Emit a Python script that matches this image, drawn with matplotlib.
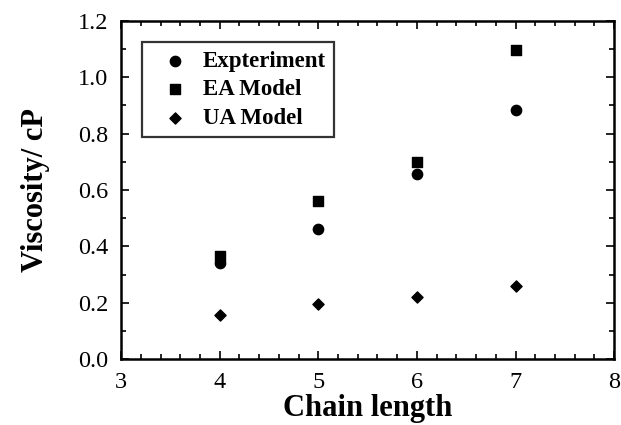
import matplotlib
matplotlib.use("Agg")
import matplotlib.pyplot as plt
from matplotlib.ticker import MultipleLocator, FormatStrFormatter

chain = [4, 5, 6, 7]
experiment = [0.34, 0.46, 0.655, 0.885]
ea_model = [0.365, 0.56, 0.70, 1.095]
ua_model = [0.155, 0.195, 0.22, 0.26]

plt.rcParams['font.family'] = ['Liberation Serif', 'DejaVu Serif']

fig = plt.figure(figsize=(6.21, 4.25), dpi=100)
ax = fig.add_axes([0.195, 0.155, 0.794, 0.796])

ax.scatter(chain, experiment, marker='o', s=55, color='black', label='Expteriment', zorder=3)
ax.scatter(chain, ea_model, marker='s', s=55, color='black', label='EA Model', zorder=3)
ax.scatter(chain, ua_model, marker='D', s=32, color='black', label='UA Model', zorder=3)

ax.set_xlim(3, 8)
ax.set_ylim(0, 1.2)
ax.xaxis.set_major_locator(MultipleLocator(1))
ax.xaxis.set_minor_locator(MultipleLocator(0.2))
ax.yaxis.set_major_locator(MultipleLocator(0.2))
ax.yaxis.set_minor_locator(MultipleLocator(0.1))
ax.yaxis.set_major_formatter(FormatStrFormatter('%.1f'))

ax.tick_params(which='both', direction='in', top=True, right=True, width=1.2)
ax.tick_params(which='major', length=6, labelsize=17.5, pad=9)
ax.tick_params(which='minor', length=3.5)
for sp in ax.spines.values():
    sp.set_linewidth(1.8)

ax.set_xlabel('Chain length', fontsize=22, fontweight='bold', labelpad=1)
ax.set_ylabel('Viscosity/ cP', fontsize=22, fontweight='bold', labelpad=20)

leg = ax.legend(loc='upper left', bbox_to_anchor=(0.043, 0.938), borderaxespad=0,
                frameon=True, fancybox=False, edgecolor='black',
                prop={'weight': 'bold', 'size': 16.5}, handletextpad=0.15,
                borderpad=0.38, labelspacing=0.33, handlelength=2.1)
leg.get_frame().set_linewidth(1.6)

fig.savefig('out.png', dpi=100)
